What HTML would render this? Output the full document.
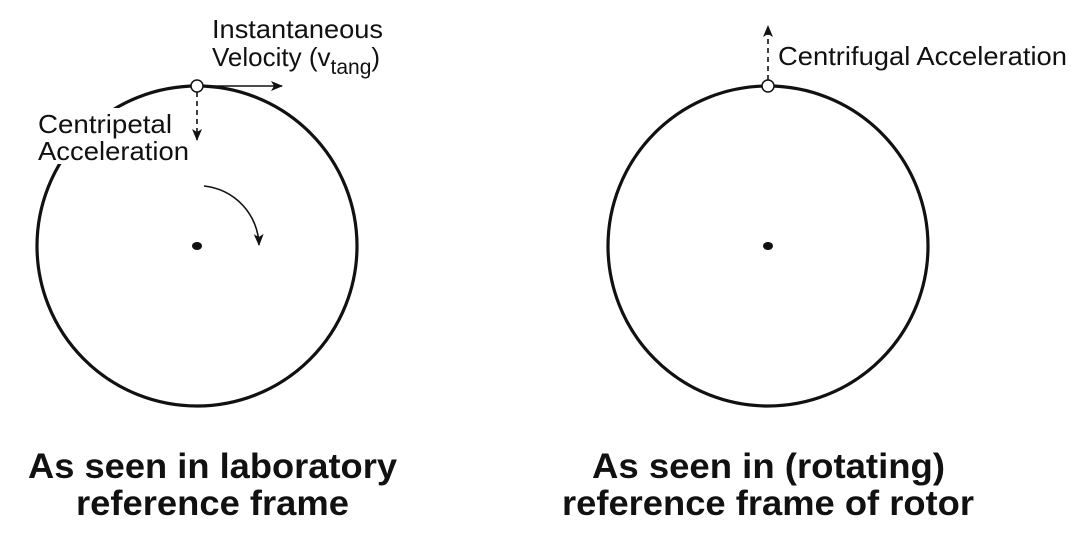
<!DOCTYPE html>
<html><head><style>
html,body{margin:0;padding:0;background:#fff;}
svg{display:block;}
text{font-family:"Liberation Sans",Arial,sans-serif;fill:#111;}
.l{font-size:26px;}
.b{font-size:35px;font-weight:bold;}
</style></head><body>
<svg width="1086" height="545" viewBox="0 0 1086 545">
<defs>
<marker id="ah" markerWidth="12" markerHeight="10" refX="11" refY="5" orient="auto" markerUnits="userSpaceOnUse">
<path d="M0,0 L12,5 L0,10 L3,5 z" fill="#111"/>
</marker>
</defs>
<!-- left -->
<circle cx="197" cy="246" r="160" fill="none" stroke="#111" stroke-width="3.2"/>
<rect x="36" y="108" width="155" height="56" fill="#fff"/>
<text class="l" x="38" y="133" textLength="134" lengthAdjust="spacingAndGlyphs">Centripetal</text>
<text class="l" x="38" y="160" textLength="151" lengthAdjust="spacingAndGlyphs">Acceleration</text>
<text class="l" x="212" y="38" textLength="171" lengthAdjust="spacingAndGlyphs">Instantaneous</text>
<text class="l" x="212" y="66">Velocity (v<tspan font-size="21" dy="8">tang</tspan><tspan dy="-8">)</tspan></text>
<line x1="203" y1="86" x2="282" y2="86" stroke="#111" stroke-width="1.6" marker-end="url(#ah)"/>
<line x1="197" y1="92" x2="197" y2="140" stroke="#111" stroke-width="1.6" stroke-dasharray="5,4" marker-end="url(#ah)"/>
<circle cx="197" cy="86" r="6" fill="#fff" stroke="#111" stroke-width="1.5"/>
<path d="M204,186 A61,61 0 0 1 259,245" fill="none" stroke="#111" stroke-width="1.6" marker-end="url(#ah)"/>
<ellipse cx="197" cy="246" rx="5" ry="4" fill="#111"/>
<text class="b" x="28" y="478" textLength="369" lengthAdjust="spacingAndGlyphs">As seen in laboratory</text>
<text class="b" x="76" y="515" textLength="273" lengthAdjust="spacingAndGlyphs">reference frame</text>
<!-- right -->
<circle cx="768" cy="246" r="160" fill="none" stroke="#111" stroke-width="3.2"/>
<line x1="768" y1="80" x2="768" y2="26" stroke="#111" stroke-width="1.6" stroke-dasharray="5,4" marker-end="url(#ah)"/>
<circle cx="768" cy="86" r="6" fill="#fff" stroke="#111" stroke-width="1.5"/>
<text class="l" x="778" y="65" textLength="289" lengthAdjust="spacingAndGlyphs">Centrifugal Acceleration</text>
<ellipse cx="768" cy="246" rx="5" ry="4" fill="#111"/>
<text class="b" x="592" y="478" textLength="353" lengthAdjust="spacingAndGlyphs">As seen in (rotating)</text>
<text class="b" x="562" y="515" textLength="412" lengthAdjust="spacingAndGlyphs">reference frame of rotor</text>
</svg>
</body></html>
